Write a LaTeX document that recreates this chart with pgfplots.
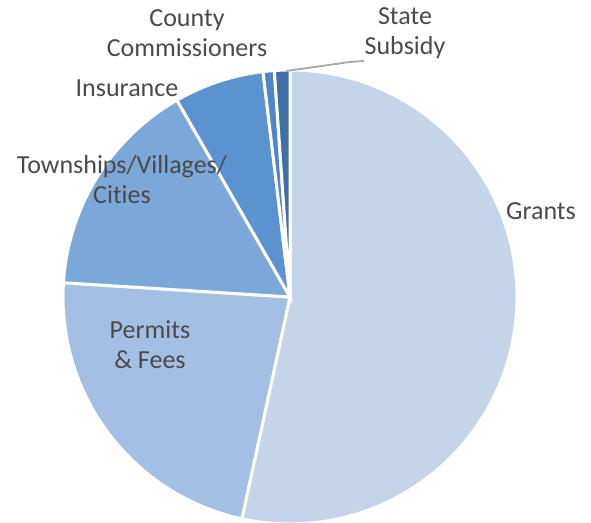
\documentclass[border=0pt]{standalone}
\usepackage{pgfplots}
\pgfplotsset{compat=1.18}
\usepackage{pgfplotstable}
\usepackage{fontspec}
\setmainfont{Carlito}[Ligatures=NoCommon]

\definecolor{slice0}{HTML}{C4D5EA}
\definecolor{slice1}{HTML}{A3BFE3}
\definecolor{slice2}{HTML}{7CA7D9}
\definecolor{slice3}{HTML}{5A93CF}
\definecolor{slice4}{HTML}{4E86C7}
\definecolor{slice5}{HTML}{3E6FA6}
\definecolor{labeltext}{HTML}{4A4A4A}

% share of each source, percent, clockwise from 12 o'clock
\pgfplotstableread{
value
53.4
22.6
15.7
6.4
0.8
1.1
}\piedata

% start/end angle of each slice
\def\cum{0}
\pgfplotsforeachungrouped \i in {0,...,5}{%
  \pgfplotstablegetelem{\i}{value}\of\piedata
  \pgfmathsetmacro\sa{90-3.6*\cum}%
  \pgfmathsetmacro\cum{\cum+\pgfplotsretval}%
  \pgfmathsetmacro\sb{90-3.6*\cum}%
  \expandafter\xdef\csname sa\i\endcsname{\sa}%
  \expandafter\xdef\csname sb\i\endcsname{\sb}%
}

\begin{document}
\begin{tikzpicture}
\useasboundingbox (0,0) rectangle (295.5pt,261.5pt);
\begin{axis}[
  at={(0,0)}, anchor=south west,
  scale only axis,
  width=295.5pt, height=261.5pt,
  xmin=0, xmax=591, ymin=0, ymax=523,
  hide axis, clip=false,
]
\pgfplotsinvokeforeach{0,...,5}{%
  \edef\tmp{\noexpand\fill[fill=slice#1, draw=white, line width=1.5pt]
    (axis cs:290,226) -- +(\csname sa#1\endcsname:113.5pt)
    arc[start angle=\csname sa#1\endcsname, end angle=\csname sb#1\endcsname, radius=113.5pt]
    -- cycle;}%
  \tmp
}
% leader line to State Subsidy
\draw[color=black!35, line width=0.9pt] (axis cs:286,452) -- (axis cs:350,461) -- (axis cs:364,462);

\tikzset{lbl/.style={text=labeltext, align=center, font=\fontsize{13}{15}\selectfont, inner sep=0pt}}
\node[lbl] at (axis cs:541,312) {Grants};
\node[lbl] at (axis cs:150,178) {Permits\\\& Fees};
\node[lbl] at (axis cs:122,343) {Townships/Villages/\\Cities};
\node[lbl] at (axis cs:127,435) {Insurance};
\node[lbl] at (axis cs:187,490) {County\\Commissioners};
\node[lbl] at (axis cs:405,490) {State\\Subsidy};
\end{axis}
\end{tikzpicture}
\end{document}
